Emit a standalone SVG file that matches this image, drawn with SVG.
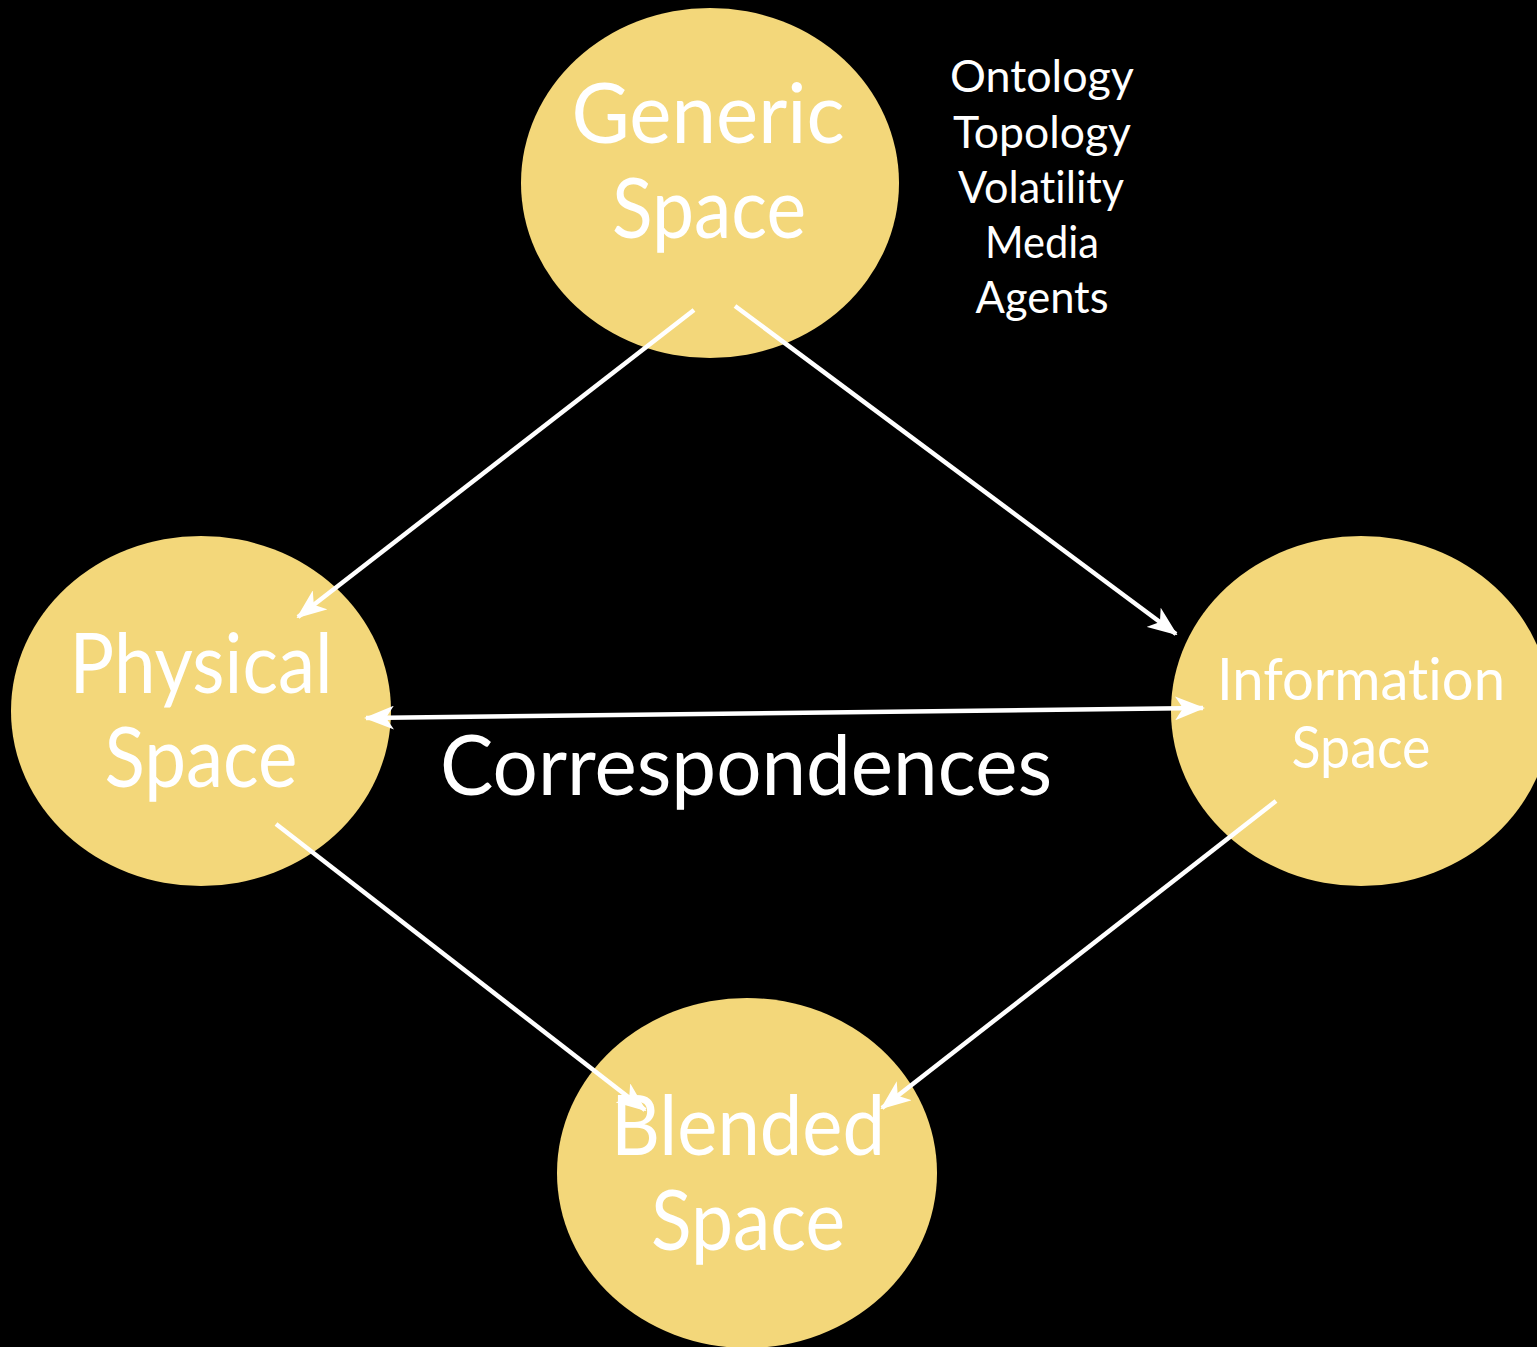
<svg xmlns="http://www.w3.org/2000/svg" width="1537" height="1347" viewBox="0 0 1537 1347">
<style>
.node{fill:#F3D77A}
.lbl{font-family:Lato,"Open Sans",sans-serif;fill:#fff;text-anchor:middle;font-variant-ligatures:none;font-feature-settings:"liga" 0}
.big{font-size:84px}
.mid{font-size:58px}
.small{font-size:44px}
.edge{stroke:#fff;stroke-width:4.5;fill:none}
</style>
<defs>
<marker id="ah" viewBox="0 0 30 24" refX="28" refY="12" markerWidth="30" markerHeight="24" markerUnits="userSpaceOnUse" orient="auto-start-reverse">
<path d="M0,0 L30,12 L0,24 L8,12 Z" fill="#fff"/>
</marker>
</defs>
<rect width="1537" height="1347" fill="#000"/>
<g id="generic">
<ellipse class="node" cx="710" cy="183" rx="189" ry="175"/>
<text class="lbl big" x="708" y="143" textLength="273" lengthAdjust="spacingAndGlyphs">Generic</text>
<text class="lbl big" x="709" y="238" textLength="194" lengthAdjust="spacingAndGlyphs">Space</text>
</g>
<g id="physical">
<ellipse class="node" cx="201" cy="711" rx="190" ry="175"/>
<text class="lbl big" x="201" y="693" textLength="263" lengthAdjust="spacingAndGlyphs">Physical</text>
<text class="lbl big" x="201" y="787" textLength="193" lengthAdjust="spacingAndGlyphs">Space</text>
</g>
<g id="information">
<ellipse class="node" cx="1361" cy="711" rx="190" ry="175"/>
<text class="lbl mid" x="1361" y="700" textLength="288" lengthAdjust="spacingAndGlyphs">Information</text>
<text class="lbl mid" x="1361" y="768" textLength="139" lengthAdjust="spacingAndGlyphs">Space</text>
</g>
<g id="blended">
<ellipse class="node" cx="747" cy="1173" rx="190" ry="175"/>
<text class="lbl big" x="748" y="1155" textLength="274" lengthAdjust="spacingAndGlyphs">Blended</text>
<text class="lbl big" x="748" y="1250" textLength="194" lengthAdjust="spacingAndGlyphs">Space</text>
</g>
<g id="aspects">
<text class="lbl small" x="1042" y="92" textLength="184" lengthAdjust="spacingAndGlyphs">Ontology</text>
<text class="lbl small" x="1042" y="148" textLength="178" lengthAdjust="spacingAndGlyphs">Topology</text>
<text class="lbl small" x="1041" y="203" textLength="166" lengthAdjust="spacingAndGlyphs">Volatility</text>
<text class="lbl small" x="1042" y="258" textLength="114" lengthAdjust="spacingAndGlyphs">Media</text>
<text class="lbl small" x="1042" y="313" textLength="133" lengthAdjust="spacingAndGlyphs">Agents</text>
</g>
<g id="connectors">
<line class="edge" x1="694" y1="310" x2="298" y2="617" marker-end="url(#ah)"/>
<line class="edge" x1="735" y1="306" x2="1176" y2="634" marker-end="url(#ah)"/>
<line class="edge" x1="366" y1="718" x2="1203" y2="708" marker-start="url(#ah)" marker-end="url(#ah)"/>
<line class="edge" x1="276" y1="824" x2="645" y2="1110" marker-end="url(#ah)"/>
<line class="edge" x1="1276" y1="801" x2="882" y2="1108" marker-end="url(#ah)"/>
<text class="lbl big" x="746" y="795" textLength="612" lengthAdjust="spacingAndGlyphs">Correspondences</text>
</g>
</svg>
